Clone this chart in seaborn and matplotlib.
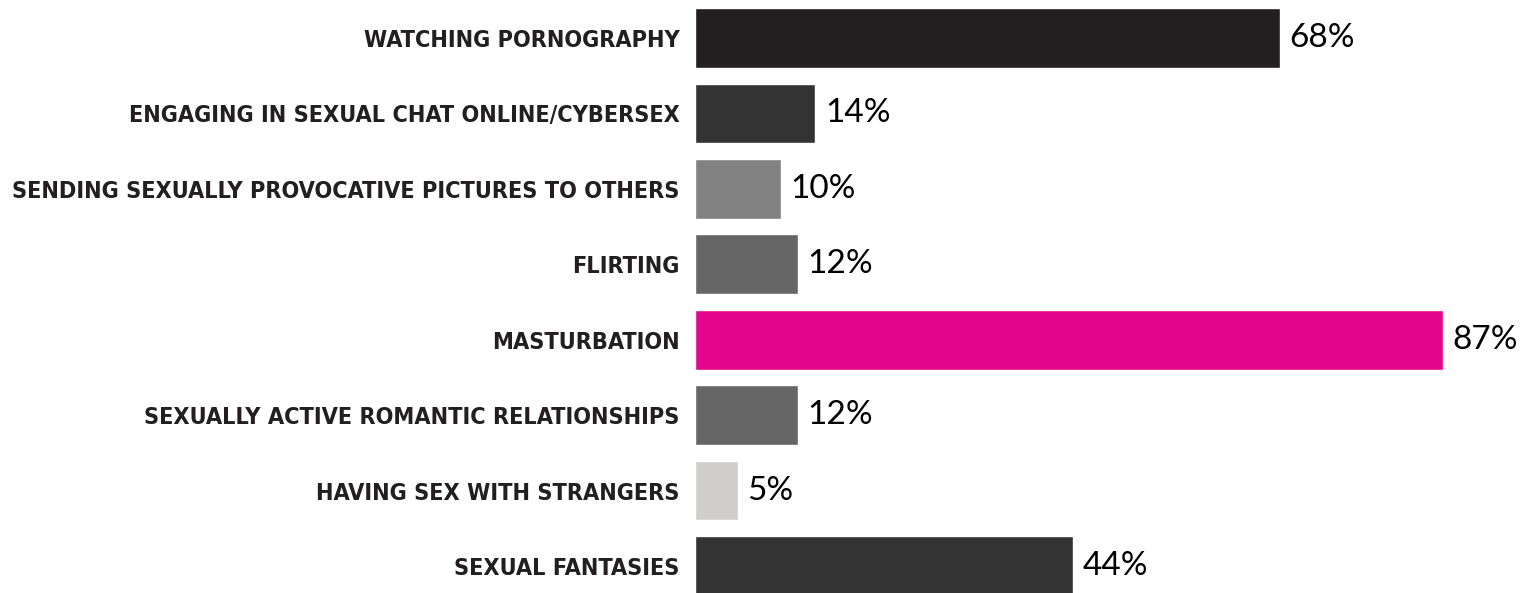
import matplotlib
matplotlib.use('Agg')
import matplotlib.pyplot as plt
from matplotlib import font_manager
from matplotlib.font_manager import FontProperties
import seaborn as sns
import pandas as pd

# Chart data
activities = [
    'WATCHING PORNOGRAPHY',
    'ENGAGING IN SEXUAL CHAT ONLINE/CYBERSEX',
    'SENDING SEXUALLY PROVOCATIVE PICTURES TO OTHERS',
    'FLIRTING',
    'MASTURBATION',
    'SEXUALLY ACTIVE ROMANTIC RELATIONSHIPS',
    'HAVING SEX WITH STRANGERS',
    'SEXUAL FANTASIES',
]
percent = [68, 14, 10, 12, 87, 12, 5, 44]
bar_colors = ['#231f20', '#333333', '#808180', '#666666',
              '#e4078c', '#666666', '#cfcecd', '#333333']

data = pd.DataFrame({'activity': activities, 'percent': percent})
palette = dict(zip(activities, bar_colors))

sns.set_style('white')
plt.rcParams['font.family'] = ['DejaVu Sans']

# look for a bold condensed face for the category labels
label_font = None
for f in font_manager.fontManager.ttflist:
    name = f.name.lower()
    bold = f.weight in ('bold', 'heavy', 'black') or \
        (isinstance(f.weight, int) and f.weight >= 700)
    narrow = 'narrow' in name or 'condensed' in name or \
        f.stretch in ('condensed', 'semi-condensed', 'extra-condensed')
    if bold and narrow and 'italic' not in f.style and 'oblique' not in f.style:
        label_font = FontProperties(fname=f.fname)
        break
if label_font is None:
    label_font = FontProperties(family='DejaVu Sans', weight='bold')

fig = plt.figure(figsize=(15.38, 5.93), dpi=100)
ax = fig.add_axes([695 / 1538, 0, 1 - 695 / 1538, 1])

sns.barplot(data=data, x='percent', y='activity', hue='activity',
            palette=palette, width=0.79, legend=False, ax=ax,
            saturation=1, orient='h')

# Value labels next to each bar
for i, v in enumerate(percent):
    ax.text(v + 1.1, i, f'{v}%', va='center', ha='left', color='#000000',
            fontsize=24, family=['Lato', 'DejaVu Sans'], fontweight='normal')

ax.set_xlim(0, 98)
ax.set_ylim(7.358, -0.504)
ax.set_xlabel('')
ax.set_ylabel('')
ax.set_xticks([])
ax.tick_params(axis='y', length=0, pad=11)
sns.despine(ax=ax, left=True, bottom=True)

# size the labels so the longest one fits in the left margin
size = 23
fig.canvas.draw()
renderer = fig.canvas.get_renderer()
probe = fig.text(0, 0, max(activities, key=len), fontproperties=label_font,
                 fontsize=size)
w = probe.get_window_extent(renderer).width
probe.remove()
if w > 670:
    size = size * 670 / w

for lbl in ax.get_yticklabels():
    lbl.set_fontproperties(label_font)
    lbl.set_fontsize(size)
    lbl.set_color('#231f20')

fig.savefig('out.png', dpi=100)
